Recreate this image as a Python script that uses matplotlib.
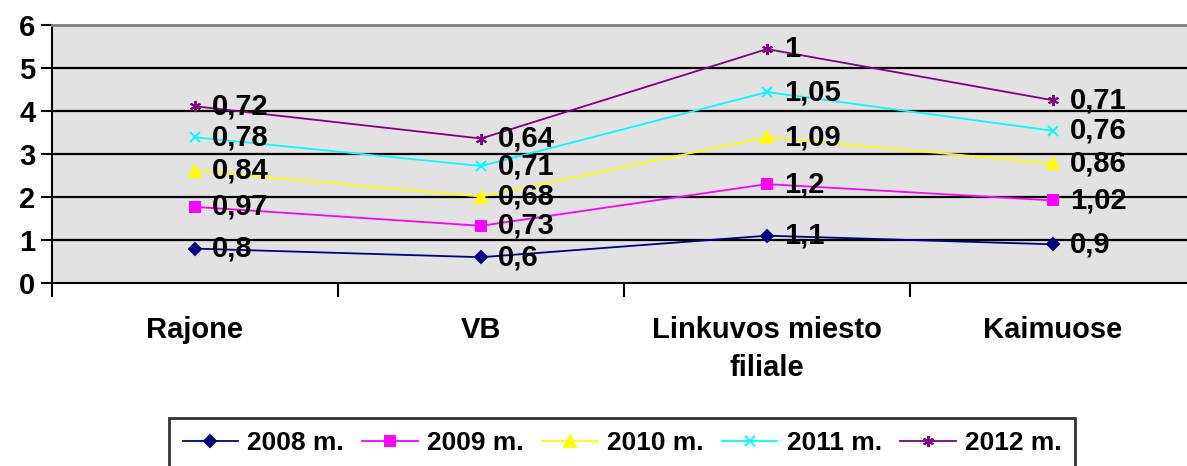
import numpy as np
import matplotlib.pyplot as plt

plt.rcParams['font.family'] = ['Liberation Sans', 'DejaVu Sans']

categories = ["Rajone", "VB", "Linkuvos miesto\nfiliale", "Kaimuose"]
series_names = ["2008 m.", "2009 m.", "2010 m.", "2011 m.", "2012 m."]
v2008 = [0.8, 0.6, 1.1, 0.9]
v2009 = [0.97, 0.73, 1.2, 1.02]
v2010 = [0.84, 0.68, 1.09, 0.86]
v2011 = [0.78, 0.71, 1.05, 0.76]
v2012 = [0.72, 0.64, 1.0, 0.71]

values = [v2008, v2009, v2010, v2011, v2012]
colors = ["#000080", "#FF00FF", "#FFFF00", "#00FFFF", "#800080"]
markers = ["D", "s", "^", "x", (6, 2, 0)]
msizes = [6.5, 7, 9, 7, 8]

fig = plt.figure(figsize=(11.87, 4.66), dpi=100)
ax = fig.add_axes([52 / 1187, 183 / 466, 1144 / 1187, 258 / 466])
ax.set_facecolor("#e2e2e2")

x = np.arange(len(categories))
cum = np.zeros(len(categories))
for vals, name, c, m, ms in zip(values, series_names, colors, markers, msizes):
    cum = cum + np.array(vals)
    ax.plot(x, cum, color=c, marker=m, markersize=ms, lw=1.3,
            markeredgewidth=1.4, label=name, zorder=3)
    for xi, yi, v in zip(x, cum, vals):
        txt = ("%g" % v).replace(".", ",")
        ax.annotate(txt, (xi, yi), xytext=(12, 0), textcoords="offset points",
                    ha="left", va="center", fontsize=21, fontweight="bold", zorder=4)

ax.set_xlim(-0.5, 3.5)
ax.set_ylim(0, 6)
ax.set_yticks(range(7))
for yv in range(1, 6):
    ax.axhline(yv, color="black", lw=1.6, zorder=1)

ax.set_xticks(x)
ax.set_xticklabels(categories, fontsize=21, fontweight="bold", linespacing=1.45)
ax.set_xticks(np.arange(-0.5, 3.5, 1.0), minor=True)
ax.tick_params(axis="x", which="major", length=0, pad=24)
ax.tick_params(axis="x", which="minor", length=10, width=1.5, direction="out")
ax.tick_params(axis="y", length=8, width=1.5, direction="out", pad=4)
for lbl in ax.get_yticklabels():
    lbl.set_fontsize(21)
    lbl.set_fontweight("bold")

ax.spines["right"].set_visible(False)
ax.spines["top"].set_color("#808080")
ax.spines["top"].set_linewidth(2)
ax.spines["left"].set_linewidth(1.5)
ax.spines["bottom"].set_linewidth(1.5)

leg = fig.legend(loc="upper center", bbox_to_anchor=(622 / 1187, 48 / 466), ncol=5,
                 frameon=True, fancybox=False, edgecolor="black",
                 prop={"size": 19, "weight": "bold"},
                 handlelength=2.1, columnspacing=0.7, handletextpad=0.35,
                 borderpad=0.5, borderaxespad=0)
leg.get_frame().set_linewidth(2)

fig.savefig("out.png", dpi=100)
